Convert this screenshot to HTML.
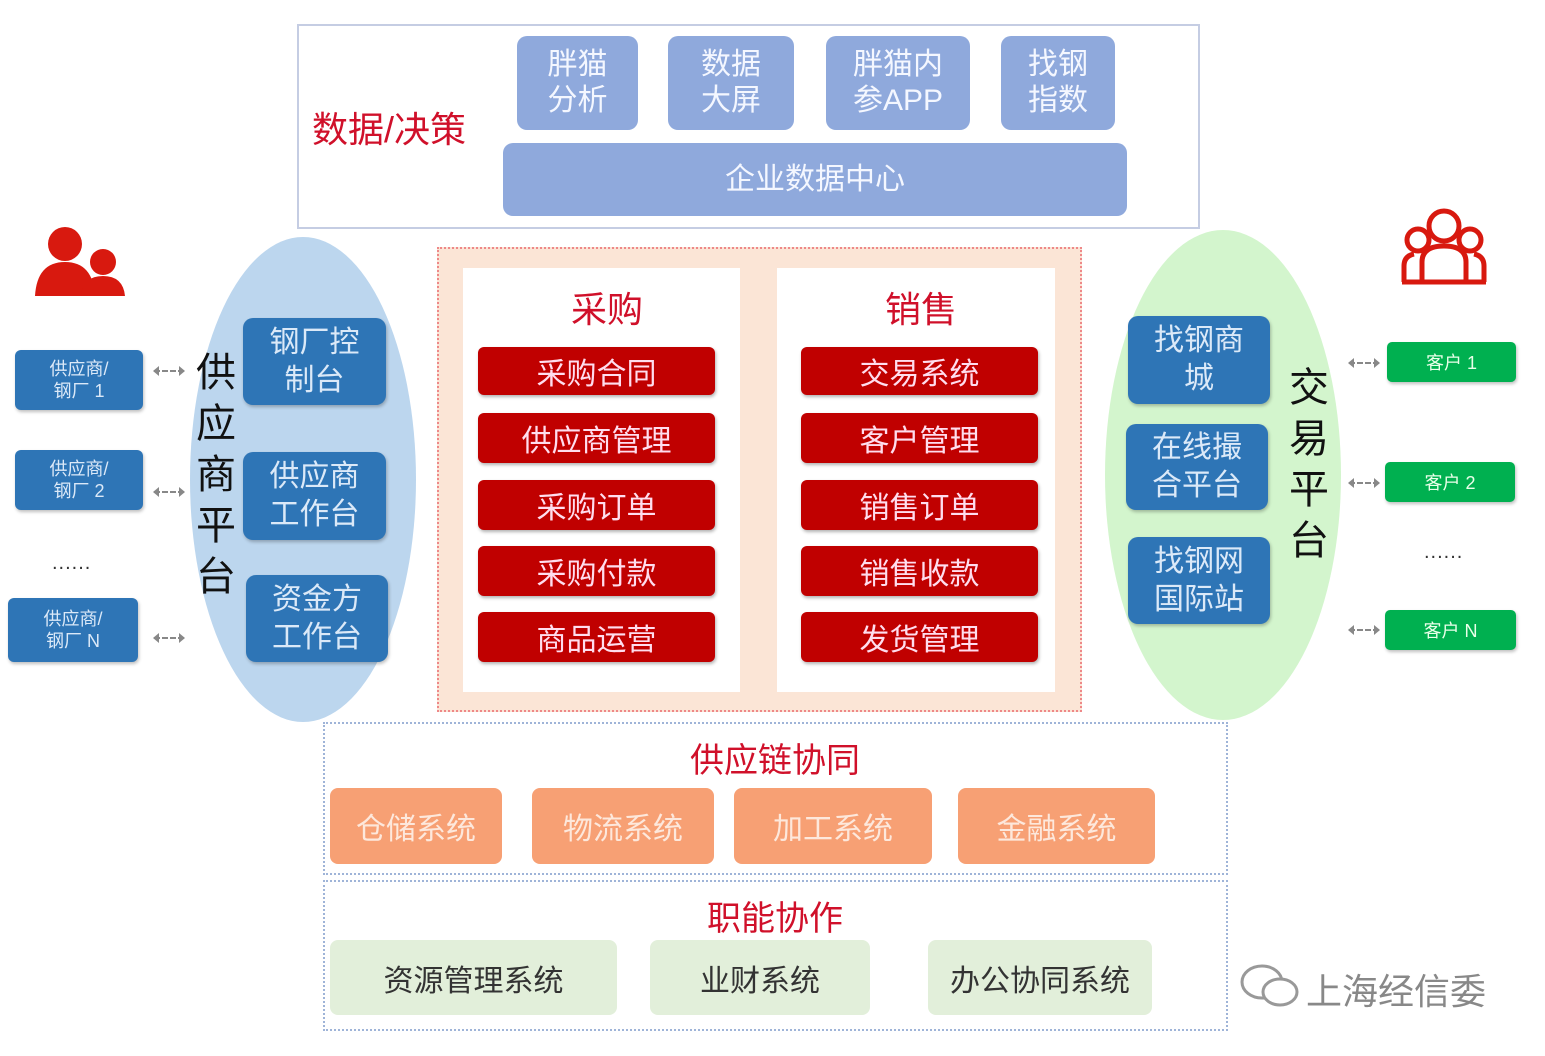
<!DOCTYPE html>
<html><head><meta charset="utf-8"><style>
body{margin:0;width:1545px;height:1056px;background:#fff;position:relative;overflow:hidden;font-family:"Liberation Sans","Noto Sans CJK SC",sans-serif}
.a{position:absolute;box-sizing:border-box;display:flex;align-items:center;justify-content:center;text-align:center}
.tb{background:#8fa9dc;color:#f4f7ff;border-radius:10px;font-size:30px;line-height:36px}
.bb{background:#2e75b6;color:#dbe9f8;border-radius:10px;font-size:30px;line-height:38px;box-shadow:1px 2px 3px rgba(0,0,0,.25)}
.sb{background:#2e75b6;color:#dbe9f8;border-radius:6px;font-size:18px;line-height:22px;box-shadow:1px 2px 3px rgba(0,0,0,.25)}
.rb{background:#c00000;color:#fde;border-radius:6px;font-size:30px;box-shadow:1px 2px 3px rgba(0,0,0,.3)}
.gb{background:#00b050;color:#e9ffe9;border-radius:5px;font-size:18px;box-shadow:1px 2px 3px rgba(0,0,0,.25)}
.ob{background:#f7a074;color:#fde8dc;border-radius:8px;font-size:30px}
.lb{background:#e2efda;color:#333;border-radius:8px;font-size:30px}
.t{position:absolute;color:#d0102a;font-size:36px;white-space:nowrap}
.v{position:absolute;font-size:40px;line-height:51px;width:44px;text-align:center;color:#111}
.ar{position:absolute;height:2px;border-top:2px dashed #888;width:30px}
.ar:before,.ar:after{content:"";position:absolute;top:-6px;border:5px solid transparent}
.ar:before{left:-6px;border-right:6px solid #888}
.ar:after{right:-6px;border-left:6px solid #888}
.dot{position:absolute;font-size:20px;color:#333;letter-spacing:1px}
</style></head><body>
<div class="a" style="left:297px;top:24px;width:903px;height:205px;border:2px solid #c5cde3"></div>
<div class="t" style="left:312px;top:101px">数据/决策</div>
<div class="a tb" style="left:517px;top:36px;width:121px;height:94px">胖猫<br>分析</div>
<div class="a tb" style="left:668px;top:36px;width:126px;height:94px">数据<br>大屏</div>
<div class="a tb" style="left:826px;top:36px;width:144px;height:94px">胖猫内<br>参APP</div>
<div class="a tb" style="left:1001px;top:36px;width:114px;height:94px">找钢<br>指数</div>
<div class="a tb" style="left:503px;top:143px;width:624px;height:73px">企业数据中心</div>

<div style="position:absolute;left:190px;top:237px;width:226px;height:485px;border-radius:50%;background:#bcd6ee"></div>
<div class="v" style="left:194px;top:348px">供<br>应<br>商<br>平<br>台</div>
<div class="a bb" style="left:243px;top:318px;width:143px;height:87px">钢厂控<br>制台</div>
<div class="a bb" style="left:243px;top:452px;width:143px;height:88px">供应商<br>工作台</div>
<div class="a bb" style="left:246px;top:575px;width:142px;height:87px">资金方<br>工作台</div>
<div class="a sb" style="left:15px;top:350px;width:128px;height:60px">供应商/<br>钢厂 1</div>
<div class="a sb" style="left:15px;top:450px;width:128px;height:60px">供应商/<br>钢厂 2</div>
<div class="a sb" style="left:8px;top:598px;width:130px;height:64px">供应商/<br>钢厂 N</div>
<div class="ar" style="left:154px;top:370px"></div>
<div class="ar" style="left:154px;top:491px"></div>
<div class="ar" style="left:154px;top:637px"></div>
<div class="dot" style="left:52px;top:552px">......</div>
<svg style="position:absolute;left:33px;top:224px" width="92" height="72"><g fill="#d8190f"><circle cx="32" cy="20" r="17"/><path d="M2 72 Q4 38 32 38 Q60 38 62 72Z"/><circle cx="70" cy="38" r="13"/><path d="M48 72 Q50 52 70 52 Q90 52 92 72Z"/></g></svg>

<div class="a" style="left:437px;top:247px;width:645px;height:465px;background:#fbe5d6;border:2px dotted #e88"></div>
<div class="a" style="left:463px;top:268px;width:277px;height:424px;background:#fff"></div>
<div class="a" style="left:777px;top:268px;width:278px;height:424px;background:#fff"></div>
<div class="t" style="left:571px;top:281px">采购</div>
<div class="t" style="left:885px;top:281px">销售</div>
<div class="a rb" style="left:478px;top:347px;width:237px;height:48px">采购合同</div>
<div class="a rb" style="left:478px;top:413px;width:237px;height:50px">供应商管理</div>
<div class="a rb" style="left:478px;top:480px;width:237px;height:50px">采购订单</div>
<div class="a rb" style="left:478px;top:546px;width:237px;height:50px">采购付款</div>
<div class="a rb" style="left:478px;top:612px;width:237px;height:50px">商品运营</div>
<div class="a rb" style="left:801px;top:347px;width:237px;height:48px">交易系统</div>
<div class="a rb" style="left:801px;top:413px;width:237px;height:50px">客户管理</div>
<div class="a rb" style="left:801px;top:480px;width:237px;height:50px">销售订单</div>
<div class="a rb" style="left:801px;top:546px;width:237px;height:50px">销售收款</div>
<div class="a rb" style="left:801px;top:612px;width:237px;height:50px">发货管理</div>

<div style="position:absolute;left:1105px;top:230px;width:236px;height:490px;border-radius:50%;background:#d3f5cd"></div>
<div class="a bb" style="left:1128px;top:316px;width:142px;height:88px">找钢商<br>城</div>
<div class="a bb" style="left:1126px;top:424px;width:142px;height:86px">在线撮<br>合平台</div>
<div class="a bb" style="left:1128px;top:537px;width:142px;height:87px">找钢网<br>国际站</div>
<div class="v" style="left:1287px;top:363px">交<br>易<br>平<br>台</div>
<div class="a gb" style="left:1387px;top:342px;width:129px;height:40px">客户 1</div>
<div class="a gb" style="left:1385px;top:462px;width:130px;height:40px">客户 2</div>
<div class="a gb" style="left:1385px;top:610px;width:131px;height:40px">客户 N</div>
<div class="ar" style="left:1349px;top:362px"></div>
<div class="ar" style="left:1349px;top:482px"></div>
<div class="ar" style="left:1349px;top:629px"></div>
<div class="dot" style="left:1424px;top:541px">......</div>
<svg style="position:absolute;left:1400px;top:206px" width="88" height="80"><g fill="none" stroke="#d8190f" stroke-width="5"><circle cx="44" cy="20" r="15"/><circle cx="18" cy="34" r="11"/><circle cx="70" cy="34" r="11"/><path d="M22 76 V56 Q22 40 44 40 Q66 40 66 56 V76Z"/><path d="M4 76 V60 Q4 50 14 48"/><path d="M84 76 V60 Q84 50 74 48"/><path d="M2 76 H86"/></g></svg>

<div class="a" style="left:323px;top:722px;width:905px;height:153px;border:2px dotted #9fb4d8"></div>
<div class="t" style="left:690px;top:733px;font-size:34px">供应链协同</div>
<div class="a ob" style="left:330px;top:788px;width:172px;height:76px">仓储系统</div>
<div class="a ob" style="left:532px;top:788px;width:182px;height:76px">物流系统</div>
<div class="a ob" style="left:734px;top:788px;width:198px;height:76px">加工系统</div>
<div class="a ob" style="left:958px;top:788px;width:197px;height:76px">金融系统</div>

<div class="a" style="left:323px;top:880px;width:905px;height:151px;border:2px dotted #9fb4d8"></div>
<div class="t" style="left:707px;top:891px;font-size:34px">职能协作</div>
<div class="a lb" style="left:330px;top:940px;width:287px;height:75px">资源管理系统</div>
<div class="a lb" style="left:650px;top:940px;width:220px;height:75px">业财系统</div>
<div class="a lb" style="left:928px;top:940px;width:224px;height:75px">办公协同系统</div>

<svg style="position:absolute;left:1238px;top:962px" width="64" height="48"><g fill="none" stroke="#999" stroke-width="3"><ellipse cx="24" cy="20" rx="20" ry="16"/><ellipse cx="42" cy="30" rx="17" ry="13" fill="#fff"/></g></svg>
<div style="position:absolute;left:1306px;top:963px;font-size:36px;color:#888">上海经信委</div>
</body></html>
